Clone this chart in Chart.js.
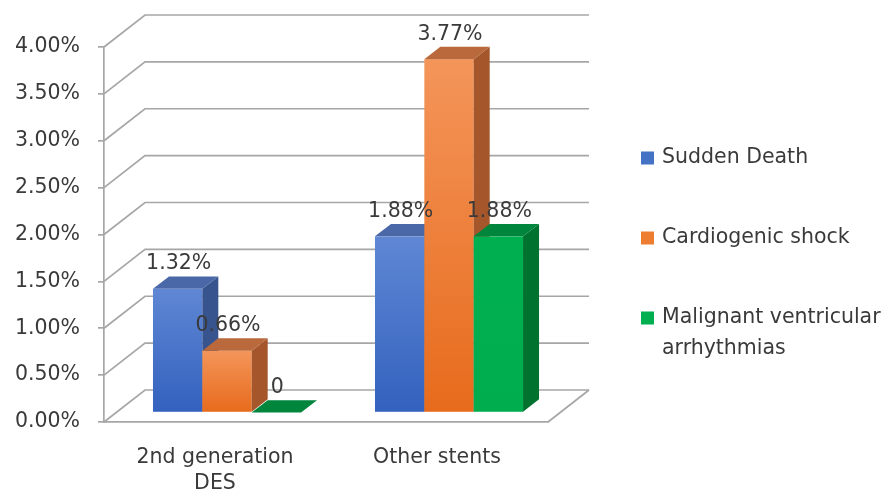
<!DOCTYPE html>
<html><head><meta charset="utf-8">
<script src="https://cdn.jsdelivr.net/npm/chart.js@4.4.1/dist/chart.umd.min.js"></script>
<style>html,body{margin:0;padding:0;background:#fff;}#wrap{position:relative;width:896px;height:498px;}</style>
</head><body><div id="wrap"><canvas id="c" width="896" height="498"></canvas></div>
<script>
// ---- data ----
const categories = [['2nd generation', 'DES'], 'Other stents'];
const seriesNames = ['Sudden Death', 'Cardiogenic shock', 'Malignant ventricular arrhythmias'];
const suddenDeath = [1.32, 1.88];
const cardiogenicShock = [0.66, 3.77];
const malignantArrhythmias = [0, 1.88];
const yTickValues = [0, 0.5, 1, 1.5, 2, 2.5, 3, 3.5, 4];
const yTickLabels = ['0.00%', '0.50%', '1.00%', '1.50%', '2.00%', '2.50%', '3.00%', '3.50%', '4.00%'];

// ---- style ----
const FONT = 'DejaVu Sans';
const FS = 20.5;
const TEXT = '#3A3A3A';
const GRID = '#A6A6A6';
const WALL_DX = 41, WALL_DY = -32;
const BAR_OFF = 0.293, BAR_DEPTH = 0.39;
const styles = [
  {front: ['#5F87D4', '#3361BE'], top: '#4A68A8', side: '#37548F', legend: '#4472C4'},
  {front: ['#F4955A', '#E76B1C'], top: '#B9693C', side: '#A5562A', legend: '#ED7D31'},
  {front: ['#00B050', '#00AD4E'], top: '#00853C', side: '#00722F', legend: '#00B050'}
];

const threeD = {
  id: 'threeD',
  beforeDatasetsDraw(chart) {
    const ctx = chart.ctx, ca = chart.chartArea, y = chart.scales.y;
    ctx.save();
    ctx.strokeStyle = GRID; ctx.lineWidth = 1.7;
    yTickValues.forEach(v => {
      const py = y.getPixelForValue(v);
      ctx.beginPath();
      ctx.moveTo(ca.left, py);
      ctx.lineTo(ca.left + WALL_DX, py + WALL_DY);
      ctx.lineTo(ca.right + WALL_DX, py + WALL_DY);
      ctx.stroke();
    });
    ctx.beginPath();
    ctx.moveTo(ca.right, ca.bottom);
    ctx.lineTo(ca.right + WALL_DX, ca.bottom + WALL_DY);
    ctx.stroke();
    ctx.restore();
  },
  afterDatasetsDraw(chart) {
    const ctx = chart.ctx;
    const ox = WALL_DX * BAR_OFF, oy = WALL_DY * BAR_OFF;
    const bx = WALL_DX * BAR_DEPTH, by = WALL_DY * BAR_DEPTH;
    const n = chart.data.labels.length;
    const labels = [];
    for (let i = 0; i < n; i++) {
      chart.data.datasets.forEach((ds, d) => {
        const el = chart.getDatasetMeta(d).data[i];
        const st = styles[d];
        const x0 = el.x - el.width / 2 + ox, x1 = el.x + el.width / 2 + ox;
        const yt = el.y + oy, yb = el.base + oy;
        ctx.save();
        if (yb - yt > 0.5) {
          const g = ctx.createLinearGradient(0, yt, 0, yb);
          g.addColorStop(0, st.front[0]); g.addColorStop(1, st.front[1]);
          ctx.fillStyle = g;
          ctx.fillRect(x0, yt, x1 - x0, yb - yt);
          ctx.fillStyle = st.side;
          ctx.beginPath();
          ctx.moveTo(x1, yt); ctx.lineTo(x1 + bx, yt + by); ctx.lineTo(x1 + bx, yb + by); ctx.lineTo(x1, yb);
          ctx.closePath(); ctx.fill();
        }
        ctx.fillStyle = st.top;
        ctx.beginPath();
        ctx.moveTo(x0, yt); ctx.lineTo(x1, yt); ctx.lineTo(x1 + bx, yt + by); ctx.lineTo(x0 + bx, yt + by);
        ctx.closePath(); ctx.fill();
        ctx.restore();
        const v = ds.data[i];
        labels.push({x: el.x + ox + 1, y: yt - 25, t: v === 0 ? '0' : v.toFixed(2) + '%'});
      });
    }
    ctx.save();
    ctx.fillStyle = TEXT; ctx.font = FS + 'px "' + FONT + '"';
    ctx.textAlign = 'center'; ctx.textBaseline = 'middle';
    labels.forEach(l => ctx.fillText(l.t, l.x, l.y));
    ctx.restore();
  },
  afterDraw(chart) {
    const ctx = chart.ctx;
    ctx.save();
    ctx.font = FS + 'px "' + FONT + '"';
    ctx.textBaseline = 'middle'; ctx.textAlign = 'left';
    const boxX = 641, textX = 662, maxW = 896 - textX - 2;
    let yc = 158;
    chart.data.datasets.forEach((ds, d) => {
      ctx.fillStyle = styles[d].legend;
      ctx.fillRect(boxX, yc - 6.5, 13, 13);
      ctx.fillStyle = TEXT;
      const words = ds.label.split(' ');
      const lines = []; let cur = '';
      words.forEach(w => {
        const t = cur ? cur + ' ' + w : w;
        if (ctx.measureText(t).width > maxW && cur) { lines.push(cur); cur = w; } else cur = t;
      });
      lines.push(cur);
      lines.forEach((ln, k) => ctx.fillText(ln, textX, yc + k * 31));
      yc += 80;
    });
    ctx.restore();
  }
};

new Chart(document.getElementById('c'), {
  type: 'bar',
  data: {
    labels: categories,
    datasets: [
      {label: seriesNames[0], data: suddenDeath},
      {label: seriesNames[1], data: cardiogenicShock},
      {label: seriesNames[2], data: malignantArrhythmias}
    ].map(d => Object.assign(d, {backgroundColor: 'rgba(0,0,0,0)', borderWidth: 0, categoryPercentage: 0.667, barPercentage: 1}))
  },
  options: {
    responsive: false, animation: false, devicePixelRatio: 1,
    layout: {padding: {top: 47, right: 348, left: 0, bottom: 0}},
    plugins: {legend: {display: false}, tooltip: {enabled: false}},
    scales: {
      x: {
        grid: {display: false},
        border: {display: true, color: GRID, width: 1.7},
        ticks: {color: TEXT, font: {family: FONT, size: FS, lineHeight: 1.25}, padding: 15, maxRotation: 0, autoSkip: false},
        afterFit(s) { s.height = 76; }
      },
      y: {
        min: 0, max: 4,
        afterBuildTicks(s) { s.ticks = yTickValues.map(v => ({value: v})); },
        grid: {drawOnChartArea: false, drawTicks: true, tickLength: 6, color: GRID, lineWidth: 1.7},
        border: {display: true, color: GRID, width: 1.7},
        ticks: {color: TEXT, font: {family: FONT, size: FS}, padding: 18,
          callback: (v, i) => yTickLabels[yTickValues.indexOf(v)]},
        afterFit(s) { s.width = 104; }
      }
    }
  },
  plugins: [threeD]
});
</script></body></html>
